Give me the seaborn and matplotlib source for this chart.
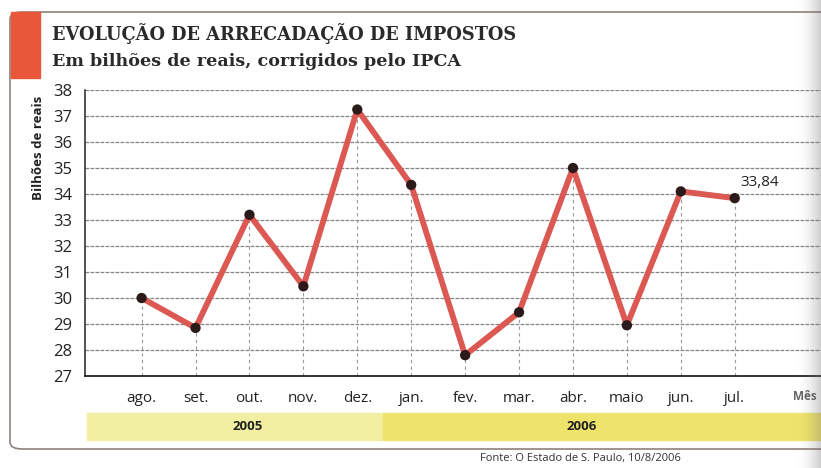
# Evolução de arrecadação de impostos (recriação)
import numpy as np
import pandas as pd
import seaborn as sns
import matplotlib.pyplot as plt
from matplotlib.patches import Rectangle, FancyBboxPatch

# Dados
meses = ["ago.", "set.", "out.", "nov.", "dez.", "jan.", "fev.", "mar.", "abr.", "maio", "jun.", "jul."]
arrecadacao = [30.0, 28.85, 33.2, 30.45, 37.25, 34.35, 27.8, 29.45, 35.0, 28.95, 34.1, 33.84]
anos = ["2005", "2006"]
y_ticks = list(range(27, 39))

df = pd.DataFrame({"pos": range(len(meses)), "mes": meses, "valor": arrecadacao})

sns.set_style("white")
plt.rcParams["font.family"] = ["Open Sans", "DejaVu Sans"]

W, H = 821, 468
fig = plt.figure(figsize=(W / 100, H / 100), dpi=100)
ax = fig.add_axes([85 / W, 1 - 376 / H, 1 - 85 / W, (376 - 90) / H])

# grade horizontal
for v in y_ticks[1:]:
    ax.axhline(v, color="#858585", lw=0.9, ls=(0, (3, 1)), zorder=1)

# linhas verticais tracejadas
for _, r in df.iterrows():
    ax.plot([r["pos"], r["pos"]], [27, r["valor"]], color="#9a9a9a", lw=0.8,
            ls=(0, (3, 3)), zorder=1)

sns.lineplot(data=df, x="pos", y="valor", ax=ax, color="#db5853", lw=4.2,
             zorder=3, solid_capstyle="round")
sns.scatterplot(data=df, x="pos", y="valor", ax=ax, color="#2a1a1a", s=55,
                edgecolor="none", zorder=4)

ax.text(df["pos"].iloc[-1] + 0.1, df["valor"].iloc[-1] + 0.3,
        f"{arrecadacao[-1]:.2f}".replace(".", ","), fontsize=11, color="#222",
        ha="left", va="bottom")

ax.set_xlim(-1.05, 12.6)
ax.set_ylim(27, 38)
ax.set_yticks(y_ticks)
ax.set_yticklabels([str(v) for v in y_ticks], fontsize=12, color="#222")
ax.set_xticks(df["pos"])
ax.set_xticklabels(meses, fontsize=11, color="#222")
ax.set_xlabel("")
ax.set_ylabel("")
ax.tick_params(axis="y", direction="out", length=6, width=1, color="#222", pad=3)
ax.tick_params(axis="x", direction="inout", length=8, width=1, color="#222", pad=7)
for s in ["top", "right"]:
    ax.spines[s].set_visible(False)
ax.spines["left"].set_color("#222")
ax.spines["bottom"].set_color("#222")
ax.spines["left"].set_linewidth(1.1)
ax.spines["bottom"].set_linewidth(1.3)

fig.text(793 / W, 1 - 397 / H, "Mês", fontsize=8.5, color="#666", fontweight="bold",
         ha="left", va="center")

# rótulo do eixo y
fig.text(38 / W, 1 - 148 / H, "Bilhões de reais", rotation=90, fontsize=9.5,
         fontweight="bold", color="#222", ha="center", va="center")

# faixa dos anos
x0 = 87
x_div = 383
band_y0, band_y1 = 413, 440
fig.patches.append(Rectangle((x0 / W, 1 - band_y1 / H), (x_div - x0) / W,
                             (band_y1 - band_y0) / H, transform=fig.transFigure,
                             color="#f3efa2", zorder=0))
fig.patches.append(Rectangle((x_div / W, 1 - band_y1 / H), (W - x_div) / W,
                             (band_y1 - band_y0) / H, transform=fig.transFigure,
                             color="#eee46c", zorder=0))
fig.text(248 / W, 1 - 427 / H, anos[0], fontsize=9.5, fontweight="bold",
         color="#222", ha="center", va="center")
fig.text(582 / W, 1 - 427 / H, anos[1], fontsize=9.5, fontweight="bold",
         color="#222", ha="center", va="center")

# moldura
fig.patches.append(FancyBboxPatch((10 / W, 1 - 449 / H), 900 / W, (449 - 12) / H,
                                  boxstyle="round,pad=0,rounding_size=0.015",
                                  transform=fig.transFigure, fill=False,
                                  edgecolor="#8d807b", lw=1.2, zorder=0))
fig.patches.append(Rectangle((11 / W, 1 - 78 / H), 29 / W, 66 / H,
                             transform=fig.transFigure, color="#e8573a", zorder=1))

# títulos
fig.text(52 / W, 1 - 34 / H, "EVOLUÇÃO DE ARRECADAÇÃO DE IMPOSTOS",
         fontsize=12.8, fontweight="bold", family=["DejaVu Serif"], color="#2a2a2a",
         ha="left", va="center")
fig.text(52 / W, 1 - 61 / H, "Em bilhões de reais, corrigidos pelo IPCA",
         fontsize=12.6, fontweight="bold", family=["DejaVu Serif"], color="#2a2a2a",
         ha="left", va="center")

fig.text(480 / W, 1 - 459 / H, "Fonte: O Estado de S. Paulo, 10/8/2006",
         fontsize=8, color="#333", ha="left", va="center")

# sombra do escaneamento na borda direita
sh = fig.add_axes([795 / W, 0, 26 / W, 1], zorder=10)
grad = np.linspace(0, 1, 50).reshape(1, -1) ** 2
rgba = np.zeros((1, 50, 4))
rgba[..., :3] = 0.45
rgba[..., 3] = grad * 0.35
sh.imshow(rgba, aspect="auto", extent=[0, 1, 0, 1])
sh.axis("off")

fig.savefig("out.png", dpi=100)
